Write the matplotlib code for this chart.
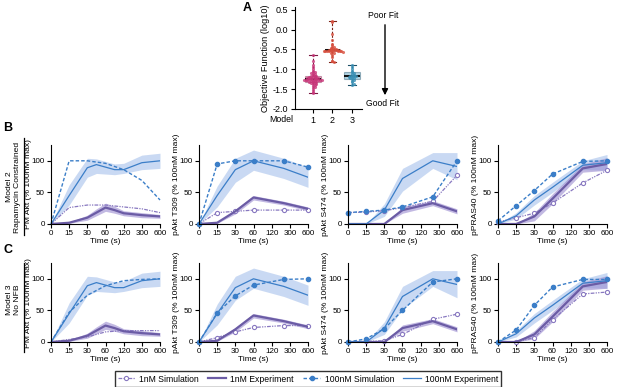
import matplotlib
matplotlib.use("Agg")
import matplotlib.pyplot as plt
import numpy as np
from matplotlib.lines import Line2D

plt.rcParams["font.family"] = ["Liberation Sans", "DejaVu Sans"]
plt.rcParams["axes.unicode_minus"] = False
plt.rcParams["font.size"] = 6

W, H = 617, 387

# ---------------- panel A data ----------------
MODELS = [1, 2, 3]
BOX_MED = [-1.25, -0.52, -1.18]
BOX_Q1 = [-1.32, -0.55, -1.25]
BOX_Q3 = [-1.18, -0.49, -1.07]
BOX_LO = [-1.60, -0.82, -1.40]
BOX_HI = [-0.63, 0.22, -0.90]
M1_PTS = [-0.63, -0.78, -0.88, -0.95, -1.0, -1.03, -1.06, -1.08, -1.1, -1.12, -1.13,
          -1.15, -1.16, -1.17, -1.18, -1.19, -1.2, -1.2, -1.21, -1.22, -1.22, -1.23,
          -1.23, -1.24, -1.24, -1.25, -1.25, -1.25, -1.26, -1.26, -1.27, -1.27, -1.28,
          -1.28, -1.29, -1.3, -1.3, -1.31, -1.32, -1.33, -1.34, -1.35, -1.36, -1.38,
          -1.4, -1.42, -1.45, -1.48, -1.52, -1.56, -1.6]
M2_PTS = [0.22, 0.2, -0.1, -0.25, -0.35, -0.4, -0.43, -0.45, -0.47, -0.48, -0.49,
          -0.5, -0.5, -0.51, -0.51, -0.52, -0.52, -0.52, -0.52, -0.53, -0.53, -0.53,
          -0.54, -0.54, -0.55, -0.55, -0.56, -0.57, -0.58, -0.6, -0.65, -0.7, -0.78,
          -0.8, -0.82]
M3_PTS = [-0.9, -0.95, -1.0, -1.04, -1.07, -1.1, -1.12, -1.14, -1.16, -1.17, -1.18,
          -1.18, -1.19, -1.2, -1.21, -1.23, -1.25, -1.27, -1.3, -1.33, -1.37, -1.4]
BOX_COLORS = ["#c8377a", "#d8503f", "#3a90b5"]
BOX_EDGES = ["#7a1842", "#7a2418", "#1d4f66"]

# ---------------- time course data ----------------
TICK_T = [0, 15, 30, 60, 120, 300, 600]
PANELS = ["PM Akt", "pAkt T309", "pAkt S474", "pPRAS40"]

# PM Akt experiment
PM_T = [0, 15, 30, 45, 60, 90, 120, 300, 600]
PM_EXP_100 = [0, 45, 89, 94, 90, 86, 86, 97, 100]
PM_EXP_100_LO = [0, 30, 74, 80, 79, 78, 80, 86, 88]
PM_EXP_100_HI = [0, 62, 104, 103, 99, 95, 96, 109, 112]
PM_EXP_1 = [0, 2, 10, 18, 26, 22, 17, 14, 12]
PM_EXP_1_LO = [0, 1, 6, 13, 20, 17, 13, 10, 9]
PM_EXP_1_HI = [0, 3, 14, 24, 33, 28, 21, 18, 15]

# other experiments
EXP_T = [0, 15, 30, 60, 240, 600]
T309_EXP_100 = [0, 45, 86, 100, 88, 74]
T309_EXP_100_LO = [0, 27, 66, 85, 72, 58]
T309_EXP_100_HI = [0, 60, 104, 117, 104, 90]
T309_EXP_1 = [0, 2, 20, 42, 33, 24]
T309_EXP_1_LO = [0, 1, 16, 38, 30, 21]
T309_EXP_1_HI = [0, 3, 23, 45, 36, 27]
S474_EXP_100 = [0, 0, 22, 72, 100, 91]
S474_EXP_100_LO = [0, 0, 12, 52, 88, 70]
S474_EXP_100_HI = [0, 0, 32, 88, 113, 113]
S474_EXP_1 = [0, 0, 0, 22, 33, 20]
S474_EXP_1_LO = [0, 0, 0, 17, 29, 16]
S474_EXP_1_HI = [0, 0, 0, 27, 37, 24]
PRAS_EXP_100 = [0, 13, 38, 58, 93, 97]
PRAS_EXP_100_LO = [0, 8, 30, 50, 86, 85]
PRAS_EXP_100_HI = [0, 18, 45, 66, 100, 110]
PRAS_EXP_1 = [0, 0, 12, 40, 88, 95]
PRAS_EXP_1_LO = [0, 0, 5, 32, 82, 85]
PRAS_EXP_1_HI = [0, 0, 18, 48, 95, 105]

# simulations
PM_SIM_T = [0, 15, 30, 60, 120, 300, 600]
SIM_T = [0, 15, 30, 60, 240, 600]
M2_PM_100 = [0, 100, 100, 96, 86, 69, 38]
M2_PM_1 = [0, 26, 30, 30, 27, 24, 18]
M2_T309_100 = [0, 95, 100, 100, 100, 90]
M2_T309_1 = [0, 18, 20, 22, 22, 22]
M2_S474_100 = [18, 20, 22, 27, 43, 100]
M2_S474_1 = [18, 19, 21, 26, 36, 77]
M2_PRAS_100 = [5, 29, 53, 79, 99, 100]
M2_PRAS_1 = [3, 10, 17, 33, 65, 85]
M3_PM_100 = [0, 47, 74, 89, 97, 99, 100]
M3_PM_1 = [0, 4, 8, 16, 18, 18, 18]
M3_T309_100 = [0, 46, 73, 90, 99, 100]
M3_T309_1 = [0, 7, 16, 23, 26, 26]
M3_S474_100 = [0, 5, 21, 50, 95, 100]
M3_S474_1 = [0, 1, 2, 12, 36, 44]
M3_PRAS_100 = [0, 19, 58, 87, 99, 99]
M3_PRAS_1 = [0, 0, 7, 35, 76, 79]

BLUE = "#3b7ec8"
BLUE_BAND = "#b8cdef"
PURPLE = "#6b5ca5"
PURPLE_BAND = "#9a8bd0"
SIM1 = "#8878c0"


def px_rect(left, top, right, bottom):
    return [left / W, 1 - bottom / H, (right - left) / W, (bottom - top) / H]


def fx(x):
    return x / W


def fy(y):
    return 1 - y / H


def _fwd(t):
    return np.interp(t, TICK_T, np.arange(len(TICK_T)))


def _inv(x):
    return np.interp(x, np.arange(len(TICK_T)), TICK_T)


def _swarm(values, pos, bin_w=0.045, dx=0.09):
    vals = np.asarray(values, dtype=float)
    bins = np.round(vals / bin_w).astype(int)
    xs = np.zeros_like(vals)
    for b in np.unique(bins):
        idx = np.where(bins == b)[0]
        for k, i in enumerate(idx):
            step = (k + 1) // 2
            sign = 1 if k % 2 else -1
            xs[i] = pos + sign * step * dx
    return xs


fig = plt.figure(figsize=(W / 100, H / 100), dpi=100)

# ---------------- panel A ----------------
axA = fig.add_axes(px_rect(295, 7, 362, 109))
for i, (pts, m) in enumerate(zip([M1_PTS, M2_PTS, M3_PTS], MODELS)):
    stats = [dict(med=BOX_MED[i], q1=BOX_Q1[i], q3=BOX_Q3[i],
                  whislo=BOX_LO[i], whishi=BOX_HI[i], fliers=[])]
    axA.bxp(stats, positions=[m], widths=0.8, patch_artist=True, showfliers=False,
            boxprops=dict(facecolor=BOX_COLORS[i], alpha=0.4, edgecolor=BOX_EDGES[i], linewidth=0.8),
            whiskerprops=dict(color=BOX_EDGES[i], linestyle=(0, (2, 1.5)), linewidth=0.8),
            capprops=dict(color=BOX_EDGES[i], linewidth=0.8),
            medianprops=dict(color="black", linewidth=1.3))
    axA.scatter(_swarm(pts, m), pts, s=5, color=BOX_COLORS[i], alpha=0.8,
                linewidths=0, zorder=3)
axA.set_xlim(0.1, 3.5)
axA.set_ylim(-2.0, 0.57)
axA.set_yticks([0.5, 0.0, -0.5, -1.0, -1.5, -2.0])
axA.set_yticklabels(["0.5", "0.0", "-0.5", "-1.0", "-1.5", "-2.0"], fontsize=6.5)
axA.set_xticks(MODELS)
axA.set_xticklabels([str(m) for m in MODELS], fontsize=6.5)
axA.set_ylabel("Objective Function (log10)", fontsize=6.6, labelpad=2)
axA.spines[["top", "right"]].set_visible(False)
axA.tick_params(length=3, width=0.8, pad=2)
fig.text(fx(293), fy(119), "Model", ha="right", va="center", fontsize=6.3)
fig.text(fx(383), fy(16), "Poor Fit", ha="center", va="center", fontsize=6.2)
fig.text(fx(383), fy(104), "Good Fit", ha="center", va="center", fontsize=6.2)
fig.patches.append(matplotlib.patches.FancyArrowPatch(
    (fx(385), fy(22)), (fx(385), fy(98)), transform=fig.transFigure,
    arrowstyle="-|>", mutation_scale=9, color="black", linewidth=1.0))
fig.text(fx(247), fy(8), "A", ha="center", va="center", fontsize=9, fontweight="bold")

# ---------------- panels B and C ----------------
exp_sets = [
    (PM_T, PM_EXP_1, PM_EXP_1_LO, PM_EXP_1_HI, PM_EXP_100, PM_EXP_100_LO, PM_EXP_100_HI),
    (EXP_T, T309_EXP_1, T309_EXP_1_LO, T309_EXP_1_HI, T309_EXP_100, T309_EXP_100_LO, T309_EXP_100_HI),
    (EXP_T, S474_EXP_1, S474_EXP_1_LO, S474_EXP_1_HI, S474_EXP_100, S474_EXP_100_LO, S474_EXP_100_HI),
    (EXP_T, PRAS_EXP_1, PRAS_EXP_1_LO, PRAS_EXP_1_HI, PRAS_EXP_100, PRAS_EXP_100_LO, PRAS_EXP_100_HI),
]
sim_sets = {
    2: [(PM_SIM_T, M2_PM_1, M2_PM_100), (SIM_T, M2_T309_1, M2_T309_100),
        (SIM_T, M2_S474_1, M2_S474_100), (SIM_T, M2_PRAS_1, M2_PRAS_100)],
    3: [(PM_SIM_T, M3_PM_1, M3_PM_100), (SIM_T, M3_T309_1, M3_T309_100),
        (SIM_T, M3_S474_1, M3_S474_100), (SIM_T, M3_PRAS_1, M3_PRAS_100)],
}
lefts = [51, 199, 348, 498]
rows = [(2, 145, 224), (3, 263, 342)]
SIM1_LS = (0, (3, 1, 1, 1, 1, 1))
SIM100_LS = (0, (2.5, 1.5))
AX_W = 109

legend_handles = None
for model, top, bottom in rows:
    for j, name in enumerate(PANELS):
        ax = fig.add_axes(px_rect(lefts[j], top, lefts[j] + AX_W, bottom))
        ax.set_xscale("function", functions=(_fwd, _inv))
        t_e, e1, e1lo, e1hi, e100, e100lo, e100hi = exp_sets[j]
        ax.fill_between(t_e, e100lo, e100hi, color=BLUE_BAND, alpha=0.75, linewidth=0)
        ax.fill_between(t_e, e1lo, e1hi, color=PURPLE_BAND, alpha=0.6, linewidth=0)
        t_s, s1, s100 = sim_sets[model][j]
        mk = None if j == 0 else "o"
        ax.plot(t_s, s1, color=SIM1, linestyle=SIM1_LS, linewidth=0.9,
                marker=mk, markersize=3, markerfacecolor="white", markeredgewidth=0.8,
                clip_on=False)
        h2, = ax.plot(t_e, e1, color=PURPLE, linewidth=1.6)
        ax.plot(t_s, s100, color=BLUE, linestyle=SIM100_LS, linewidth=1.0,
                marker=mk, markersize=3, clip_on=False)
        h4, = ax.plot(t_e, e100, color=BLUE, linewidth=0.9)
        if legend_handles is None:
            hm1 = Line2D([], [], color=SIM1, linestyle=SIM1_LS, linewidth=0.9,
                         marker="o", markersize=3, markerfacecolor="white", markeredgewidth=0.8)
            hm3 = Line2D([], [], color=BLUE, linestyle=SIM100_LS, linewidth=1.0,
                         marker="o", markersize=3)
            legend_handles = [hm1, h2, hm3, h4]
        ax.set_xlim(0, 600)
        ax.set_ylim(0, 125)
        ax.set_xticks(TICK_T)
        ax.set_xticklabels([str(t) for t in TICK_T])
        ax.minorticks_off()
        ax.set_yticks([0, 50, 100])
        ax.set_xlabel("Time (s)", fontsize=6, labelpad=0.5)
        ax.set_ylabel(f"{name} (% 100nM max)", fontsize=6.1)
        ax.yaxis.set_label_coords(-19 / AX_W, 0.5)
        ax.spines[["top", "right"]].set_visible(False)
        ax.tick_params(length=3, width=0.8, pad=1.5, labelsize=5.8)

# row labels
fig.text(fx(8), fy(128), "B", ha="center", va="center", fontsize=9, fontweight="bold")
fig.text(fx(8), fy(250), "C", ha="center", va="center", fontsize=9, fontweight="bold")
fig.text(fx(9.5), fy(187), "Model 2", rotation=90, ha="center", va="center", fontsize=6.1)
fig.text(fx(17.5), fy(187), "Rapamycin Constrained", rotation=90, ha="center", va="center", fontsize=6.1)
fig.text(fx(9.5), fy(300), "Model 3", rotation=90, ha="center", va="center", fontsize=6.1)
fig.text(fx(17.5), fy(300), "No NFB", rotation=90, ha="center", va="center", fontsize=6.1)
fig.add_artist(Line2D([fx(24), fx(24)], [fy(138), fy(235)], color="black", linewidth=0.9,
                      transform=fig.transFigure))
fig.add_artist(Line2D([fx(24), fx(24)], [fy(263), fy(352)], color="black", linewidth=0.9,
                      transform=fig.transFigure))

fig.legend(legend_handles, ["1nM Simulation", "1nM Experiment", "100nM Simulation", "100nM Experiment"],
           loc="center", bbox_to_anchor=(fx(308), fy(379)), ncol=4, frameon=True, fancybox=False,
           edgecolor="black", fontsize=6.2, handlelength=2.0, columnspacing=1.1,
           borderpad=0.35, handletextpad=0.5)

fig.savefig("out.png", dpi=100)
